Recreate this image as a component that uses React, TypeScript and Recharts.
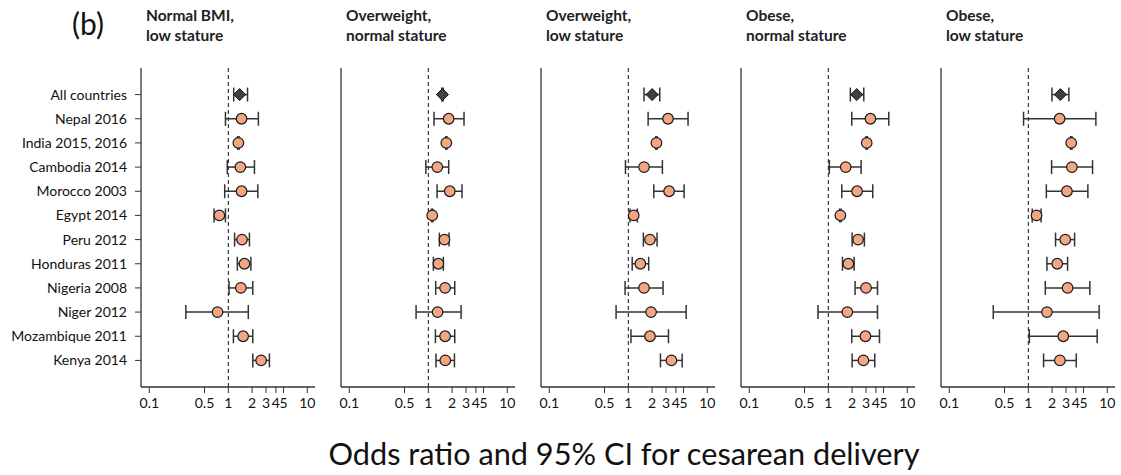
import React from 'react';
import { ScatterChart, Scatter, XAxis, YAxis, ErrorBar, ReferenceLine } from 'recharts';

const ROWS = [
  'All countries',
  'Nepal 2016',
  'India 2015, 2016',
  'Cambodia 2014',
  'Morocco 2003',
  'Egypt 2014',
  'Peru 2012',
  'Honduras 2011',
  'Nigeria 2008',
  'Niger 2012',
  'Mozambique 2011',
  'Kenya 2014',
];

const X_TICKS = [0.1, 0.5, 1, 2, 3, 4, 5, 10];

const TITLES = [
  ['Normal BMI,', 'low stature'],
  ['Overweight,', 'normal stature'],
  ['Overweight,', 'low stature'],
  ['Obese,', 'normal stature'],
  ['Obese,', 'low stature'],
];

// Normal BMI, low stature
const OR_NBLS = [1.39, 1.47, 1.34, 1.42, 1.47, 0.77, 1.49, 1.6, 1.44, 0.73, 1.54, 2.6];
const LO_NBLS = [1.17, 0.92, 1.31, 0.97, 0.9, 0.66, 1.2, 1.3, 1.02, 0.29, 1.16, 2.04];
const HI_NBLS = [1.75, 2.4, 1.37, 2.14, 2.36, 0.92, 1.85, 1.93, 2.04, 1.79, 2.04, 3.31];

// Overweight, normal stature
const OR_OWNS = [1.51, 1.81, 1.69, 1.3, 1.87, 1.12, 1.6, 1.34, 1.63, 1.31, 1.63, 1.64];
const LO_OWNS = [1.48, 1.18, 1.66, 0.93, 1.29, 1.1, 1.38, 1.16, 1.24, 0.7, 1.23, 1.25];
const HI_OWNS = [1.54, 2.83, 1.72, 1.81, 2.67, 1.14, 1.83, 1.55, 2.16, 2.6, 2.16, 2.14];

// Overweight, low stature
const OR_OWLS = [2.0, 3.18, 2.27, 1.58, 3.28, 1.17, 1.88, 1.42, 1.58, 1.94, 1.88, 3.51];
const LO_OWLS = [1.58, 1.78, 2.23, 0.92, 2.1, 1.05, 1.55, 1.12, 0.91, 0.7, 1.08, 2.55];
const HI_OWLS = [2.5, 5.7, 2.31, 2.7, 5.08, 1.3, 2.31, 1.81, 2.75, 5.39, 3.22, 4.8];

// Obese, normal stature
const OR_OBNS = [2.29, 3.41, 3.06, 1.66, 2.31, 1.42, 2.38, 1.79, 3.0, 1.74, 2.95, 2.78];
const LO_OBNS = [1.9, 1.98, 3.0, 1.03, 1.48, 1.39, 2.0, 1.51, 2.18, 0.74, 1.98, 2.0];
const HI_OBNS = [2.81, 5.82, 3.12, 2.6, 3.65, 1.45, 2.86, 2.12, 4.19, 4.19, 4.44, 3.87];

// Obese, low stature
const OR_OBLS = [2.54, 2.49, 3.49, 3.56, 3.08, 1.27, 2.93, 2.32, 3.14, 1.72, 2.77, 2.51];
const LO_OBLS = [1.99, 0.87, 3.42, 1.97, 1.69, 1.12, 2.21, 1.72, 1.64, 0.36, 1.03, 1.56];
const HI_OBLS = [3.26, 7.16, 3.56, 6.5, 5.67, 1.45, 3.85, 3.14, 6.0, 7.88, 7.44, 4.04];

const PANEL_VALUES = [
  [OR_NBLS, LO_NBLS, HI_NBLS],
  [OR_OWNS, LO_OWNS, HI_OWNS],
  [OR_OWLS, LO_OWLS, HI_OWLS],
  [OR_OBNS, LO_OBNS, HI_OBNS],
  [OR_OBLS, LO_OBLS, HI_OBLS],
];

const FONT = 'Lato, "Open Sans", sans-serif';
const AXIS = '#333333';
const SALMON = '#F4A582';

const AXIS_W = 141;
const PLOT_W = 174;
const CHART_W = AXIS_W + PLOT_W + 10;
const CHART_H = 417;

const noShape = () => <g />;

const circleShape = (props: any) => (
  <circle cx={props.cx} cy={props.cy} r={5.3} fill={SALMON} stroke="#1a1a1a" strokeWidth={1.2} />
);

const diamondShape = (props: any) => {
  const { cx, cy } = props;
  const r = 6;
  return (
    <polygon
      points={`${cx},${cy - r} ${cx + r},${cy} ${cx},${cy + r} ${cx - r},${cy}`}
      fill="#404040"
      stroke="#111"
      strokeWidth={1}
    />
  );
};

const Panel = ({ index }: { index: number }) => {
  const [or, lo, hi] = PANEL_VALUES[index];
  const rows = ROWS.map((name, i) => ({
    name,
    row: i,
    or: or[i],
    err: [or[i] - lo[i], hi[i] - or[i]],
  }));
  const overall = rows.slice(0, 1);
  const countries = rows.slice(1);
  const first = index === 0;

  return (
    <div style={{ position: 'absolute', left: index * 200, top: 0 }}>
      <ScatterChart
        width={CHART_W}
        height={CHART_H}
        margin={{ top: 68, right: 10, bottom: 0, left: 0 }}
      >
        <XAxis
          type="number"
          dataKey="or"
          scale="log"
          domain={[0.0785, 12.5]}
          allowDataOverflow
          ticks={X_TICKS}
          interval={0}
          height={30}
          tickSize={6}
          tickMargin={5}
          tick={{ fill: '#111', fontSize: 14, fontFamily: FONT }}
          axisLine={{ stroke: AXIS, strokeWidth: 1.3 }}
          tickLine={{ stroke: AXIS }}
        />
        <YAxis
          type="number"
          dataKey="row"
          reversed
          domain={[-1.1, 12.1]}
          allowDataOverflow
          ticks={first ? ROWS.map((_, i) => i) : []}
          interval={0}
          width={AXIS_W}
          tickSize={6}
          tickMargin={8}
          tickFormatter={(v: number) => ROWS[v] ?? ''}
          tick={first ? { fill: '#111', fontSize: 14, fontFamily: FONT } : false}
          tickLine={first ? { stroke: AXIS } : false}
          axisLine={{ stroke: AXIS, strokeWidth: 1.3 }}
        />
        <ReferenceLine x={1} stroke="#111" strokeDasharray="4 3" strokeWidth={1} />
        {/* confidence intervals first, so the markers sit on top */}
        <Scatter data={rows} shape={noShape} isAnimationActive={false} zIndex={500}>
          <ErrorBar
            dataKey="err"
            direction="x"
            width={7}
            stroke="#333"
            strokeWidth={1.5}
            isAnimationActive={false}
            zIndex={500}
          />
        </Scatter>
        <Scatter data={countries} shape={circleShape} isAnimationActive={false} zIndex={900} />
        <Scatter data={overall} shape={diamondShape} isAnimationActive={false} zIndex={900} />
      </ScatterChart>
    </div>
  );
};

export default function App() {
  return (
    <div
      style={{
        position: 'absolute',
        left: 0,
        top: 0,
        width: 1121,
        height: 475,
        background: '#fff',
        fontFamily: FONT,
        overflow: 'hidden',
      }}
    >
      {TITLES.map((_, i) => (
        <Panel key={i} index={i} />
      ))}
      <svg
        width={1121}
        height={475}
        style={{ position: 'absolute', left: 0, top: 0, pointerEvents: 'none' }}
      >
        <text x={72} y={35} fontSize={30} fontFamily={FONT} fill="#111">
          (b)
        </text>
        {TITLES.map((lines, i) => (
          <text key={i} fontSize={15.5} fontWeight={700} fontFamily={FONT} fill="#222">
            <tspan x={AXIS_W + 5 + i * 200} y={21}>
              {lines[0]}
            </tspan>
            <tspan x={AXIS_W + 5 + i * 200} y={41}>
              {lines[1]}
            </tspan>
          </text>
        ))}
        <text x={624} y={465} textAnchor="middle" fontSize={30.7} fontFamily={FONT} fill="#111">
          Odds ratio and 95% CI for cesarean delivery
        </text>
      </svg>
    </div>
  );
}
